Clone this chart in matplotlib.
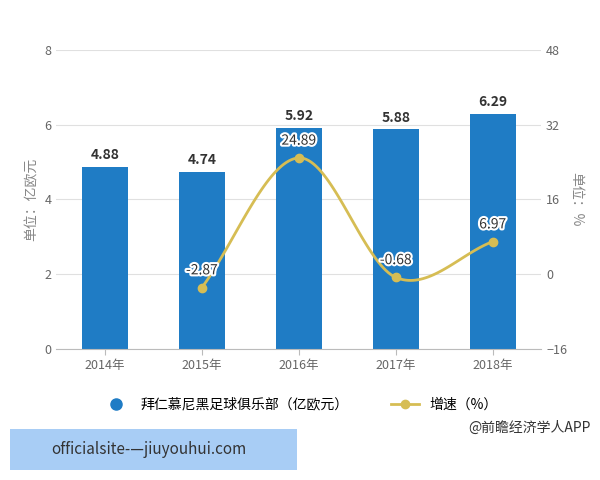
import matplotlib
matplotlib.use("Agg")
import matplotlib.pyplot as plt
import matplotlib.patheffects as pe
from matplotlib.patches import Rectangle
from matplotlib.lines import Line2D
import numpy as np

plt.rcParams['font.family'] = ['Noto Sans CJK SC', 'DejaVu Sans']

years = ['2014年', '2015年', '2016年', '2017年', '2018年']
revenue = [4.88, 4.74, 5.92, 5.88, 6.29]
growth_years_idx = [1, 2, 3, 4]
growth = [-2.87, 24.89, -0.68, 6.97]

bar_c = '#1f7cc5'
line_c = '#d6bd54'

fig = plt.figure(figsize=(6, 4.8), dpi=100)
ax = fig.add_axes([0.094, 0.273, 0.808, 0.623])
x = np.arange(len(years))
ax.bar(x, revenue, width=0.47, color=bar_c, zorder=2)
for xi, v in zip(x, revenue):
    ax.text(xi, v + 0.12, f'{v:.2f}', ha='center', va='bottom', fontsize=10, fontweight='bold', color='#333333')
ax.set_ylim(0, 8)
ax.set_yticks([0, 2, 4, 6, 8])
ax.set_xlim(-0.5, 4.5)
ax.set_xticks(x)
ax.set_xticklabels(years)
ax.grid(axis='y', color='#e0e0e0', zorder=0)
for s in ['top', 'right', 'left']:
    ax.spines[s].set_visible(False)
ax.spines['bottom'].set_color('#bbbbbb')
ax.tick_params(axis='both', colors='#666666', labelsize=9, length=0)
ax.tick_params(axis='x', length=4, color='#bbbbbb')
ax.set_ylabel('单位：亿欧元', color='#888888', fontsize=10)

ax2 = ax.twinx()
ax2.set_ylim(-16, 48)
ax2.set_yticks([-16, 0, 16, 32, 48])
for s in ax2.spines.values():
    s.set_visible(False)
ax2.tick_params(axis='y', colors='#666666', labelsize=9, length=0)
ax2.set_ylabel('单位：%', color='#888888', fontsize=10, rotation=-90, labelpad=12)

px = np.array(growth_years_idx, dtype=float)
py = np.array(growth, dtype=float)
P = np.vstack([px, py]).T
P = np.vstack([2*P[0]-P[1], P, 2*P[-1]-P[-2]])
cx, cy = [], []
for i in range(1, len(P)-2):
    p0, p1, p2, p3 = P[i-1], P[i], P[i+1], P[i+2]
    t = np.linspace(0, 1, 40)[:, None]
    c = 0.5*((2*p1) + (-p0+p2)*t + (2*p0-5*p1+4*p2-p3)*t**2 + (-p0+3*p1-3*p2+p3)*t**3)
    cx.extend(c[:, 0]); cy.extend(c[:, 1])
ax2.plot(cx, cy, color=line_c, lw=2, zorder=3)
ax2.plot(px, py, 'o', color=line_c, ms=6, zorder=4)
for xi, v in zip(px, py):
    ax2.text(xi, v + 2.2, f'{v:.2f}', ha='center', va='bottom', fontsize=10, color='#333333',
             path_effects=[pe.withStroke(linewidth=3, foreground='white')], zorder=5)

h_bar = Line2D([0], [0], marker='o', color='none', markerfacecolor=bar_c, markeredgecolor=bar_c, ms=8)
h_line = Line2D([0], [0], marker='o', color=line_c, markerfacecolor=line_c, ms=6, lw=2)
fig.legend([h_bar, h_line], ['拜仁慕尼黑足球俱乐部（亿欧元）', '增速（%）'], loc='center',
           bbox_to_anchor=(0.5, 0.157), ncol=2, frameon=False, fontsize=10, handlelength=2, columnspacing=3)

fig.text(0.985, 0.108, '@前瞻经济学人APP', ha='right', va='center', fontsize=10, color='#333333')
fig.patches.append(Rectangle((0.017, 0.021), 0.478, 0.085, transform=fig.transFigure,
                             facecolor='#a8cdf5', edgecolor='none', zorder=0))
fig.text(0.085, 0.063, 'officialsite-—jiuyouhui.com', ha='left', va='center', fontsize=11, color='#333333')

fig.savefig('out.png', dpi=100)
